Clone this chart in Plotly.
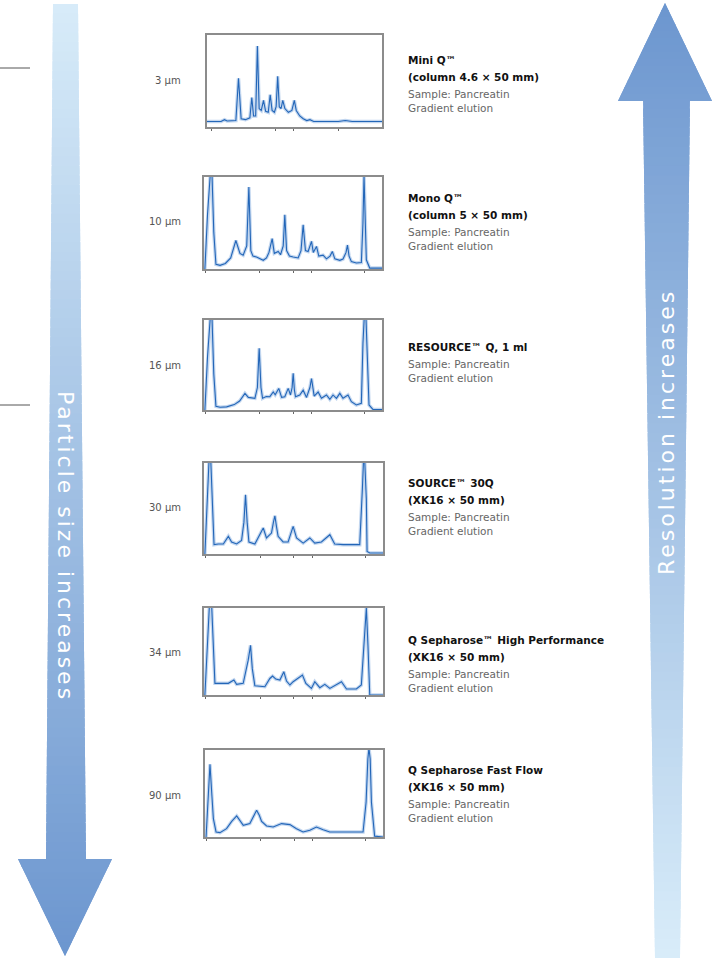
import plotly.graph_objects as go

# ---------------- data ----------------
SIZE_LABELS = ["3 µm", "10 µm", "16 µm", "30 µm", "34 µm", "90 µm"]
MEDIA_LINES = [
    ["Mini Q™", "(column 4.6 × 50 mm)"],
    ["Mono Q™", "(column 5 × 50 mm)"],
    ["RESOURCE™ Q, 1 ml"],
    ["SOURCE™ 30Q", "(XK16 × 50 mm)"],
    ["Q Sepharose™ High Performance", "(XK16 × 50 mm)"],
    ["Q Sepharose Fast Flow", "(XK16 × 50 mm)"],
]
SAMPLE_LINES = ["Sample: Pancreatin", "Gradient elution"]

MINIQ_X = [0, 8, 10, 11.5, 16.5, 18, 19.5, 22, 24.5, 25.6, 26.6, 27.8, 28.8, 29.8, 31, 32.3, 33.5, 35, 36.1, 37.2,
           38.5, 39.5, 40.4, 41.3, 42.3, 43.3, 44.5, 46.5, 48.5, 49.9, 51, 53, 55, 57, 58.8, 61, 75, 79, 83, 103]
MINIQ_Y = [6, 6, 8, 6.5, 7, 53, 9, 8, 10, 32, 12, 12, 88, 20, 18, 29, 17, 16, 35, 18,
           16, 22, 55, 22, 20, 29, 20, 16, 18, 29, 18, 12, 9, 7, 8, 6, 6, 7, 6, 6]

MONOQ_X = [0.5, 2, 3.5, 4.5, 5.5, 6.7, 9, 12, 15, 17.9, 20.2, 22, 24, 25.2, 26.3, 27.5, 29.5, 33.3, 35.1, 36.5,
           38.3, 39.5, 41.7, 43, 44.5, 45.4, 46.4, 48, 50.1, 52.9, 54.5, 55.7, 57, 58.5, 60.4, 61.4, 63.2, 64.5,
           66.9, 68.8, 70.8, 72.1, 73.5, 76.3, 78.1, 79.8, 80.6, 81.5, 82.8, 85.6, 88.4, 89.3, 89.9, 90.5, 91.2,
           93.1, 100]
MONOQ_Y = [0, 60, 102, 102, 40, 5, 4, 6, 12, 31, 17, 15, 25, 89, 20, 14, 13, 9.5, 12, 18,
           33, 17, 19, 15.5, 25, 59, 20, 14, 13, 12, 20, 48, 20, 19, 30, 18, 24.5, 14,
           15, 11, 14, 19, 11, 9.4, 10.8, 18, 26, 14, 8, 6.5, 7, 50, 102, 60, 10,
           1, 1]

RESOURCEQ_X = [0.5, 2, 3.5, 4.5, 5.5, 6.7, 9, 12.7, 17, 20, 23, 24.9, 28.6, 30, 31, 32, 32.9, 35, 37, 38.9,
               40, 42, 43.6, 45.4, 47.3, 48.6, 49.5, 50.1, 50.8, 51.4, 53.8, 55.7, 57.6, 59.5, 60.4, 61.3, 61.9,
               64.1, 66, 68.8, 70.7, 72.5, 74.4, 76.3, 78.1, 80.9, 82.8, 85.6, 88.4, 89.3, 90, 91, 91.6, 92.7,
               94.9, 100]
RESOURCEQ_Y = [0, 60, 102, 102, 40, 4, 3, 3.5, 6, 10, 18.5, 14, 13, 25, 68.5, 25, 13, 15, 14.8, 20,
               17, 24, 14, 14.8, 24, 16.7, 25, 40.7, 22, 14.8, 16.7, 22, 14, 25, 35, 20, 15.5,
               20, 13, 16.7, 11.8, 16.7, 13, 18.5, 13, 16.7, 9.3, 5.6, 7.4, 74, 102, 102, 74, 5.6,
               0.7, 0.5]

SOURCE30Q_X = [0.5, 1.5, 2.8, 3.8, 4.8, 5.6, 8, 10.8, 13.6, 15.4, 18.2, 21, 22.3, 23.2, 24.1, 25.1, 28.4, 30.3,
               33.1, 34.9, 37.7, 38.8, 39.6, 40.5, 41.4, 44.2, 47, 49.8, 51.7, 55.4, 59.1, 61.9, 65.6, 70.3, 73,
               77.7, 87, 88.5, 89.1, 89.8, 90.7, 91.1, 92.6, 100]
SOURCE30Q_Y = [0, 50, 102, 102, 40, 10.3, 11, 11, 19.4, 13.2, 11, 15, 35, 65, 35, 13.2, 11, 17.6,
               28.6, 17.6, 23, 35, 42, 30, 19.4, 13.2, 13.2, 30.4, 17.6, 12, 17.6, 12, 13.2, 21.2, 11,
               10.3, 10.3, 72.5, 102, 102, 60, 2.9, 1.1, 1.1]

QHP_X = [0.5, 1.8, 3, 4.3, 5.2, 6.1, 8, 13.6, 16.7, 18.2, 21.9, 24.7, 26, 27, 28.4, 34, 36.8, 38.3, 40.1, 42.4,
         44.6, 46.1, 48, 49.8, 55, 56.9, 60, 61.9, 64.7, 67.5, 70.3, 73, 76.8, 79.6, 85.1, 87.9, 89.8, 90.7,
         91.6, 92.6, 100]
QHP_Y = [0, 60, 102, 102, 50, 13.4, 13.4, 13.4, 17.2, 12.2, 13.4, 40, 57, 30, 10.7, 9.5, 19, 21.8, 18.3, 17.2,
         26.7, 16, 11.5, 15.3, 23, 13.4, 7.6, 15.3, 8.4, 12.2, 7.6, 10.7, 15.3, 6.9, 6.9, 11.5, 76, 100,
         57, 0, 0]

QFF_X = [0.6, 1.8, 2.8, 3.8, 4.7, 6.2, 8.4, 12.1, 15, 17.8, 20, 21.5, 25.2, 27.5, 29, 30.5, 31.8, 34.6, 38.3,
         43, 47.7, 51.4, 55.1, 58.9, 62.6, 66.4, 70.1, 88.8, 90.5, 91.5, 92.1, 92.8, 93.5, 95.3, 100]
QFF_Y = [0, 50, 83.5, 50, 21, 5.8, 5, 9.6, 18, 24.2, 18, 13.5, 15.4, 25, 30.8, 25, 18, 12.7, 11.5,
         15.4, 14.2, 9.6, 5.8, 7.7, 11.5, 8.4, 5.8, 5.8, 40, 90, 102, 90, 40, 1, 0]

SERIES = [(MINIQ_X, MINIQ_Y), (MONOQ_X, MONOQ_Y), (RESOURCEQ_X, RESOURCEQ_Y),
          (SOURCE30Q_X, SOURCE30Q_Y), (QHP_X, QHP_Y), (QFF_X, QFF_Y)]

# ---------------- layout helpers ----------------
W, H = 712, 959


def px(x):
    return x / W


def py(y):
    return 1 - y / H


# panel boxes in pixels (x0, y0, x1, y1)
BOXES = [(207, 35, 382, 127), (204, 177, 382, 269), (204, 320, 382, 410),
         (204, 463, 383, 554), (204, 608, 383, 695), (205, 750, 383, 837)]
TICKS_A = [2.8, 38.9, 49.3, 75]
TICKS_B = [1.1, 31.4, 50, 60.4, 90.3]

fig = go.Figure()
layout = dict(width=W, height=H, margin=dict(l=0, r=0, t=0, b=0),
              paper_bgcolor="white", plot_bgcolor="white", showlegend=False)

for i, ((xs, ys), (x0, y0, x1, y1)) in enumerate(zip(SERIES, BOXES)):
    n = "" if i == 0 else str(i + 1)
    layout["xaxis" + n] = dict(domain=[px(x0), px(x1)], range=[0, 100], showgrid=False, zeroline=False,
                               showline=True, mirror=True, linecolor="#8c8c8c", linewidth=1.5,
                               ticks="outside", ticklen=2, tickcolor="#666", tickwidth=1,
                               tickvals=TICKS_A if i == 0 else TICKS_B, showticklabels=False,
                               anchor="y" + n, fixedrange=True)
    layout["yaxis" + n] = dict(domain=[py(y1), py(y0)], range=[0, 100], showgrid=False, zeroline=False,
                               showline=True, mirror=True, linecolor="#8c8c8c", linewidth=1.5,
                               ticks="", showticklabels=False, anchor="x" + n, fixedrange=True)
    fig.add_trace(go.Scatter(x=xs, y=ys, mode="lines", xaxis="x" + n, yaxis="y" + n,
                             line=dict(color="rgba(120,165,220,0.45)", width=3.5), hoverinfo="skip"))
    fig.add_trace(go.Scatter(x=xs, y=ys, mode="lines", xaxis="x" + n, yaxis="y" + n,
                             line=dict(color="#2366b8", width=1.1), hoverinfo="skip"))

fig.update_layout(**layout)

# ---------------- gradient arrows ----------------
shapes = []


def mix(c1, c2, t):
    return "rgb(%d,%d,%d)" % tuple(round(a + (b - a) * t) for a, b in zip(c1, c2))


LIGHT = (216, 236, 249)
DARK = (108, 150, 207)


def poly(points, color):
    path = "M " + " L ".join("%f,%f" % (px(a), py(b)) for a, b in points) + " Z"
    return dict(type="path", path=path, xref="paper", yref="paper", fillcolor=color,
                line=dict(width=0), layer="below")


def strip_shapes(ya, yb, xl_a, xr_a, xl_b, xr_b, color_fn, n):
    out = []
    for k in range(n):
        t0 = k / n
        t1 = min(1.0, (k + 1) / n + 0.01)
        yy0 = ya + (yb - ya) * t0
        yy1 = ya + (yb - ya) * t1
        l0 = xl_a + (xl_b - xl_a) * t0
        r0 = xr_a + (xr_b - xr_a) * t0
        l1 = xl_a + (xl_b - xl_a) * t1
        r1 = xr_a + (xr_b - xr_a) * t1
        out.append(poly([(l0, yy0), (r0, yy0), (r1, yy1), (l1, yy1)], color_fn((yy0 + yy1) / 2)))
    return out


# left arrow (points down), light at top -> dark at bottom
def left_col(y):
    return mix(LIGHT, DARK, max(0, min(1, (y - 4) / (955 - 4))))


shapes.append(poly([(18, 859), (112, 859), (65, 956)], left_col(900)))
shapes += strip_shapes(4, 861, 53, 78, 46, 86, left_col, 90)
shapes += strip_shapes(859, 956, 18, 112, 65, 65, left_col, 14)


# right arrow (points up), dark at top -> light at bottom
def right_col(y):
    return mix(LIGHT, DARK, max(0, min(1, (957 - y) / (957 - 3))))


shapes.append(poly([(665, 3), (712, 101), (618, 101)], right_col(60)))
shapes += strip_shapes(3, 101, 665, 665, 618, 712, right_col, 14)
shapes += strip_shapes(99, 958, 643, 690, 655, 680, right_col, 90)

# small horizontal rules on the far left
for yy in (68, 405):
    shapes.append(dict(type="line", xref="paper", yref="paper", x0=0, x1=px(30), y0=py(yy), y1=py(yy),
                       line=dict(color="#555555", width=1)))

fig.update_layout(shapes=shapes)

# ---------------- text ----------------
ann = []
ann.append(dict(text='<span style="letter-spacing:3px">Particle size increases</span>',
                x=px(66), y=py(546), xref="paper", yref="paper",
                textangle=90, showarrow=False, font=dict(family="DejaVu Sans", size=22, color="white"),
                xanchor="center", yanchor="middle"))
ann.append(dict(text='<span style="letter-spacing:3px">Resolution increases</span>',
                x=px(666), y=py(432), xref="paper", yref="paper",
                textangle=-90, showarrow=False, font=dict(family="DejaVu Sans", size=22, color="white"),
                xanchor="center", yanchor="middle"))

LABEL_Y = [80, 222, 365, 507, 652, 795]
TEXT_TOP = [60, 198, 347, 483, 640, 770]
for i in range(6):
    ann.append(dict(text=SIZE_LABELS[i], x=px(183), y=py(LABEL_Y[i]), xref="paper", yref="paper",
                    showarrow=False, xanchor="right", yanchor="middle",
                    font=dict(family="DejaVu Sans", size=10, color="#555")))
    yy = TEXT_TOP[i]
    for line in MEDIA_LINES[i]:
        ann.append(dict(text="<b>" + line + "</b>", x=px(406), y=py(yy), xref="paper", yref="paper",
                        showarrow=False, xanchor="left", yanchor="middle",
                        font=dict(family="DejaVu Sans", size=10.5, color="#111")))
        yy += 17
    for line in SAMPLE_LINES:
        ann.append(dict(text=line, x=px(406), y=py(yy), xref="paper", yref="paper", showarrow=False,
                        xanchor="left", yanchor="middle",
                        font=dict(family="DejaVu Sans", size=10.5, color="#666")))
        yy += 14

fig.update_layout(annotations=ann)

fig.write_html("out.html", config={"displayModeBar": False})

# remove the default page margin so the figure sits at the window origin
with open("out.html", "r", encoding="utf-8") as f:
    html = f.read()
html = html.replace("<body>", '<body style="margin:0;overflow:hidden">', 1)
with open("out.html", "w", encoding="utf-8") as f:
    f.write(html)
